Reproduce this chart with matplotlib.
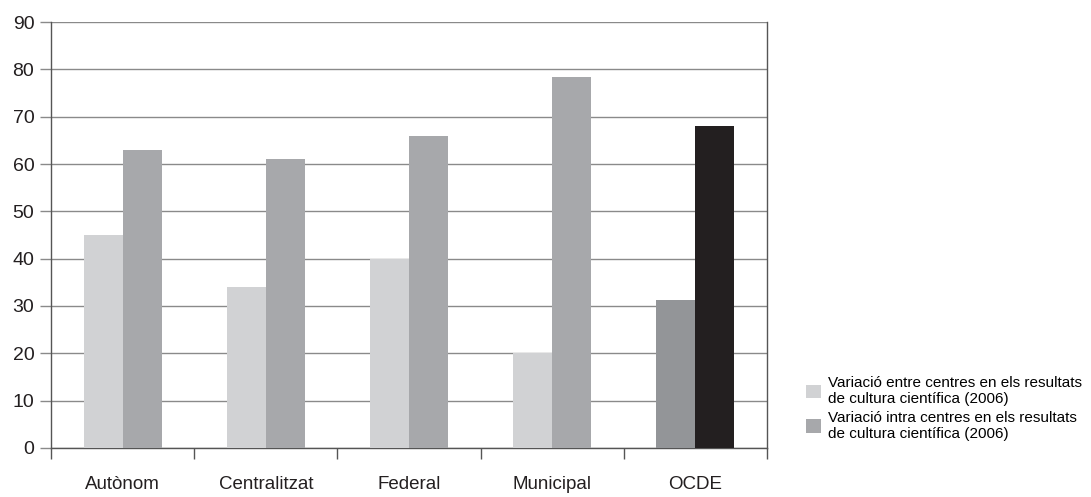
import matplotlib
matplotlib.use("Agg")
import matplotlib.pyplot as plt
import numpy as np
from matplotlib.patches import Patch

categories = ["Autònom", "Centralitzat", "Federal", "Municipal", "OCDE"]
between = [45, 34, 40, 20, 31.2]
within = [63, 61, 66, 78.3, 68]
yticks = [0, 10, 20, 30, 40, 50, 60, 70, 80, 90]
legend_labels = ["Variació entre centres en els resultats\nde cultura científica (2006)",
                 "Variació intra centres en els resultats\nde cultura científica (2006)"]

plt.rcParams['font.family'] = ['Liberation Sans', 'DejaVu Sans']

c_light = "#d1d2d4"
c_mid = "#a7a8ab"
c_ocde_light = "#939598"
c_ocde_dark = "#231f20"

fig = plt.figure(figsize=(10.91, 4.97), dpi=100)
ax = fig.add_axes([51/1091, 49/497, (767-51)/1091, (448-22)/497])

x = np.arange(len(categories))
w = 0.272
cl = [c_light]*4 + [c_ocde_light]
cd = [c_mid]*4 + [c_ocde_dark]
ax.bar(x - w/2, between, w, color=cl, zorder=3)
ax.bar(x + w/2, within, w, color=cd, zorder=3)

ax.set_xlim(-0.5, len(categories)-0.5)
ax.set_ylim(0, 90)
ax.set_yticks(yticks)
ax.set_yticklabels([str(t) for t in yticks], fontsize=14, color="#231f20")
ax.yaxis.grid(True, color="#8a8a8a", linewidth=1.0, zorder=0)
ax.tick_params(axis='y', length=8, width=1.0, color="#8a8a8a", pad=4)

ax.set_xticks(x)
ax.set_xticklabels(categories, fontsize=13.5, color="#231f20")
ax.set_xticks(np.arange(-0.5, len(categories)), minor=True)
ax.tick_params(axis='x', which='major', length=0, pad=20)
ax.tick_params(axis='x', which='minor', length=8, width=1.0, color="#555555")

for s in ["left", "right", "bottom"]:
    ax.spines[s].set_color("#555555")
    ax.spines[s].set_linewidth(1.0)
ax.spines["top"].set_visible(False)

handles = [Patch(facecolor=c_light, edgecolor="none"), Patch(facecolor=c_mid, edgecolor="none")]
fig.legend(handles, legend_labels, loc="upper left", bbox_to_anchor=(800/1091, 1-370/497),
           frameon=False, fontsize=11, handlelength=1.0, handleheight=1.0,
           handletextpad=0.4, labelspacing=0.3, borderaxespad=0)

fig.savefig("out.png", dpi=100)
